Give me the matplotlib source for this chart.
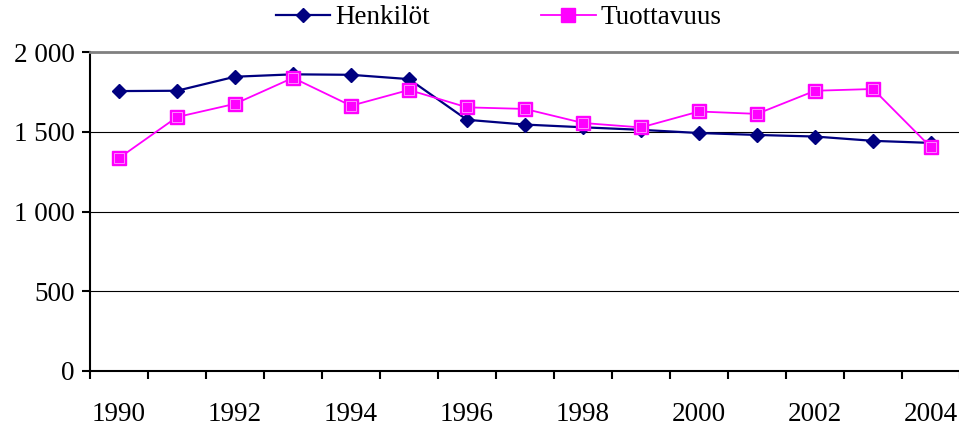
import matplotlib
matplotlib.use("Agg")
import matplotlib.pyplot as plt
from matplotlib.ticker import FixedLocator, FuncFormatter
import numpy as np

years = list(range(1990, 2005))
henkilot = [1755, 1757, 1845, 1860, 1857, 1830, 1575, 1545, 1528, 1512, 1492, 1480, 1470, 1443, 1430]
tuottavuus = [1335, 1592, 1675, 1838, 1663, 1762, 1653, 1643, 1555, 1527, 1627, 1612, 1757, 1768, 1402]
series_names = ["Henkilöt", "Tuottavuus"]
y_ticks = [0, 500, 1000, 1500, 2000]

plt.rcParams['font.family'] = ['Liberation Serif', 'DejaVu Serif']

W, H = 959, 426
fig = plt.figure(figsize=(W / 100, H / 100), dpi=100)
ax = fig.add_axes([90 / W, (H - 371) / H, 870 / W, 319 / H])

x = np.arange(len(years))
navy = '#000080'
mag = '#FF00FF'
l1, = ax.plot(x, henkilot, color=navy, lw=1.6, marker='D', ms=7.6,
              mfc=navy, mec=navy, zorder=4, label=series_names[0])
l2, = ax.plot(x, tuottavuus, color=mag, lw=1.3, marker='s', ms=9.5,
              mfc=mag, mec=mag, zorder=5, label=series_names[1])
ax.plot(x, tuottavuus, ls='none', marker='s', ms=7.2, mfc=mag,
        mec='#FFA0FF', mew=0.6, zorder=6)

ax.set_xlim(-0.5, len(years) - 0.5)
ax.set_ylim(0, 2000)

ax.yaxis.set_major_locator(FixedLocator(y_ticks))
ax.yaxis.set_major_formatter(FuncFormatter(lambda v, p: f"{int(v):,}".replace(",", " ")))
ax.yaxis.grid(True, color='black', lw=0.8)
ax.set_axisbelow(True)

ax.xaxis.set_major_locator(FixedLocator(x[::2]))
ax.set_xticklabels([str(y) for y in years[::2]])
ax.xaxis.set_minor_locator(FixedLocator(np.arange(-0.5, len(years), 1.0)))
ax.tick_params(axis='x', which='major', length=0, pad=22, labelsize=19.5)
ax.tick_params(axis='x', which='minor', length=6, width=1.5, direction='out')
ax.tick_params(axis='y', length=6, width=1.5, direction='out', pad=5, labelsize=19.5)

for s in ['left', 'bottom']:
    ax.spines[s].set_linewidth(1.5)
    ax.spines[s].set_color('black')
ax.spines['right'].set_visible(False)
ax.spines['top'].set_color('#808080')
ax.spines['top'].set_linewidth(2)

fig.legend(handles=[l1, l2], labels=series_names, loc='center',
           bbox_to_anchor=(499 / W, 1 - 18 / H), ncol=2, frameon=False,
           fontsize=19.5, handlelength=2.0, handletextpad=0.2,
           columnspacing=4.1, borderpad=0, borderaxespad=0)

fig.savefig("out.png", dpi=100)
